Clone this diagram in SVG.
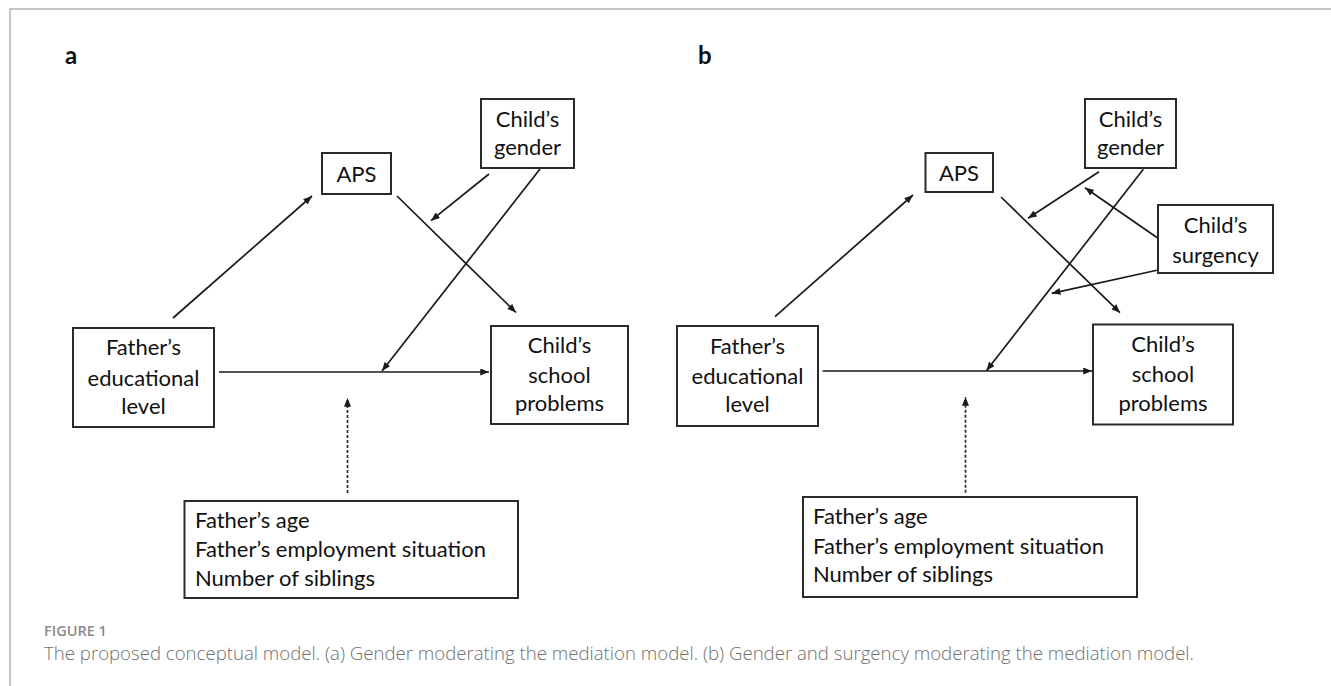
<svg xmlns="http://www.w3.org/2000/svg" width="1331" height="686" viewBox="0 0 1331 686">
<defs>
<style>
.box{fill:#fff;stroke:#2a2a2a;stroke-width:2}
.t{font-family:Lato,"Liberation Sans",sans-serif;font-size:22px;fill:#111;text-anchor:middle}
.tl{font-family:Lato,"Liberation Sans",sans-serif;font-size:22px;fill:#111}
.lbl{font-family:Lato,"Liberation Sans",sans-serif;font-size:24px;font-weight:bold;fill:#111}
.c{stroke:#1a1a1a;stroke-width:1.7;fill:none;marker-end:url(#ah)}
.d{stroke:#2a2a2a;stroke-width:1.7;fill:none;stroke-dasharray:3 2;marker-end:url(#ah)}
.frame{stroke:#b3b3b3;stroke-width:1.5;fill:none}
.fig{font-family:"Open Sans","Liberation Sans",sans-serif;font-size:14.5px;font-weight:600;fill:#8a8a8a}
.cap{font-family:"Open Sans","Liberation Sans",sans-serif;font-size:18px;font-weight:300;fill:#707070}
</style>
<marker id="ah" viewBox="0 0 10 8" refX="10" refY="4" markerWidth="9" markerHeight="7" markerUnits="userSpaceOnUse" orient="auto">
<path d="M0,0 L10,4 L0,8 Z" fill="#1a1a1a"/>
</marker>
</defs>
<rect width="1331" height="686" fill="#fff"/>
<path class="frame" d="M10,686 V9 H1331"/>

<text class="lbl" x="65" y="64">a</text>
<text class="lbl" x="698" y="64">b</text>

<g id="connectors">
<line class="c" x1="173" y1="318" x2="312" y2="196"/>
<line class="c" x1="397" y1="196" x2="516" y2="312.5"/>
<line class="c" x1="489" y1="174" x2="431" y2="220.7"/>
<line class="c" x1="540" y1="169" x2="382" y2="371"/>
<line class="c" x1="219" y1="372" x2="489" y2="372"/>
<line class="d" x1="347.5" y1="493" x2="347.5" y2="398"/>

<line class="c" x1="775" y1="316.7" x2="913" y2="195"/>
<line class="c" x1="1001" y1="197" x2="1120" y2="312.7"/>
<line class="c" x1="1099" y1="171.7" x2="1028" y2="218.3"/>
<line class="c" x1="1158" y1="238.3" x2="1085" y2="187.7"/>
<line class="c" x1="1158" y1="270" x2="1051.7" y2="293.3"/>
<line class="c" x1="1143.3" y1="169.3" x2="986.4" y2="370.7"/>
<line class="c" x1="822.6" y1="371" x2="1092" y2="371"/>
<line class="d" x1="965.5" y1="492.7" x2="965.5" y2="397"/>
</g>

<g id="a-aps"><rect class="box" x="322" y="153" width="69" height="41"/><text class="t" x="356.5" y="181.5">APS</text></g>
<g id="a-gender"><rect class="box" x="481" y="99" width="93" height="69"/><text class="t" x="527.5" y="126.5">Child’s</text><text class="t" x="527.5" y="154.5">gender</text></g>
<g id="a-father"><rect class="box" x="73" y="328" width="141" height="99"/><text class="t" x="143.5" y="354.5">Father’s</text><text class="t" x="143.5" y="385.5">educational</text><text class="t" x="143.5" y="413.5">level</text></g>
<g id="a-school"><rect class="box" x="491" y="326" width="137" height="98"/><text class="t" x="559.5" y="353">Child’s</text><text class="t" x="559.5" y="383">school</text><text class="t" x="559.5" y="410.5">problems</text></g>
<g id="a-covariates"><rect class="box" x="184.5" y="501" width="333.5" height="97"/><text class="tl" x="195" y="527.5">Father’s age</text><text class="tl" x="195" y="556.5">Father’s employment situation</text><text class="tl" x="195" y="585.5">Number of siblings</text></g>

<g id="b-aps"><rect class="box" x="925.5" y="153" width="67.5" height="39"/><text class="t" x="959" y="180.5">APS</text></g>
<g id="b-gender"><rect class="box" x="1085" y="99" width="91" height="69"/><text class="t" x="1130.5" y="126.5">Child’s</text><text class="t" x="1130.5" y="154.5">gender</text></g>
<g id="b-surgency"><rect class="box" x="1158" y="205" width="115" height="68"/><text class="t" x="1215.5" y="232.5">Child’s</text><text class="t" x="1215.5" y="262.5">surgency</text></g>
<g id="b-father"><rect class="box" x="677" y="326" width="141" height="100"/><text class="t" x="747.5" y="353.5">Father’s</text><text class="t" x="747.5" y="384">educational</text><text class="t" x="747.5" y="412">level</text></g>
<g id="b-school"><rect class="box" x="1093" y="324.5" width="140" height="100"/><text class="t" x="1163" y="352">Child’s</text><text class="t" x="1163" y="382">school</text><text class="t" x="1163" y="410.5">problems</text></g>
<g id="b-covariates"><rect class="box" x="803" y="497" width="334" height="100"/><text class="tl" x="813" y="523.5">Father’s age</text><text class="tl" x="813" y="553.5">Father’s employment situation</text><text class="tl" x="813" y="582">Number of siblings</text></g>

<text class="fig" x="44" y="636">FIGURE 1</text>
<text class="cap" x="44" y="660" textLength="1150" lengthAdjust="spacingAndGlyphs">The proposed conceptual model. (a) Gender moderating the mediation model. (b) Gender and surgency moderating the mediation model.</text>
</svg>
